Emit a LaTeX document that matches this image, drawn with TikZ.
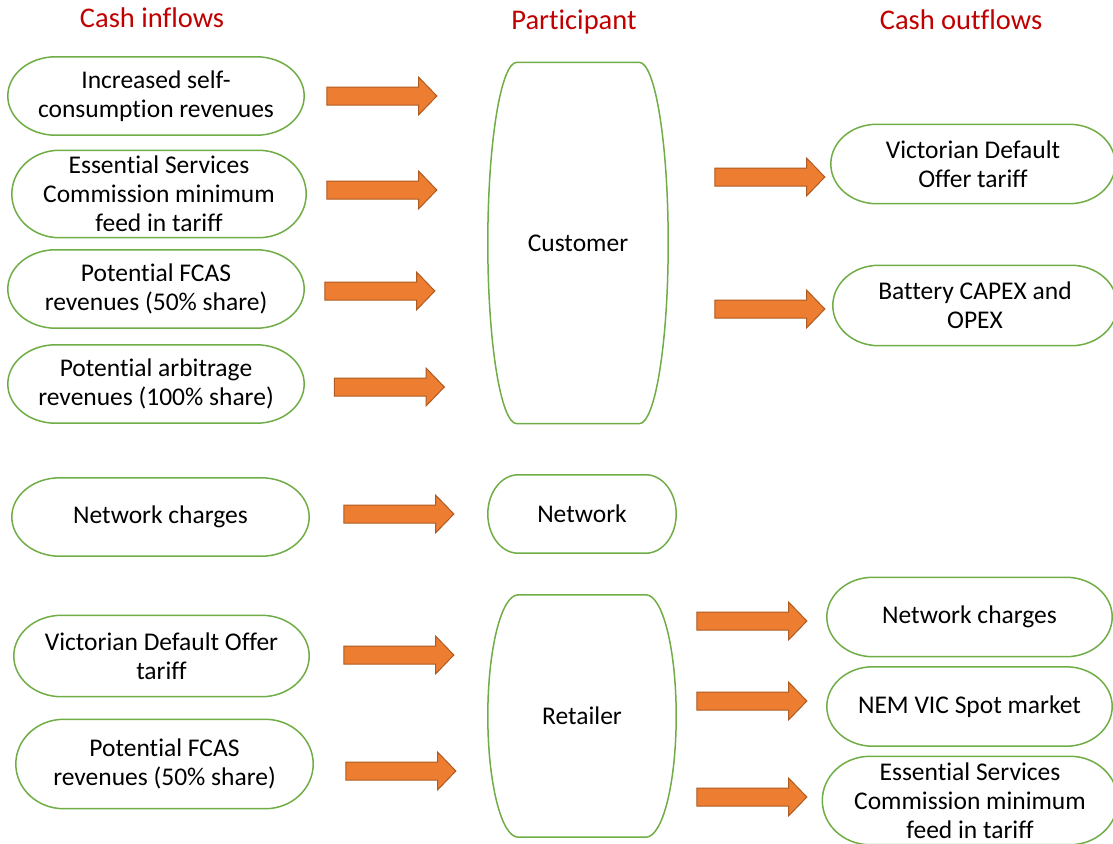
\documentclass[tikz,border=0pt]{standalone}
\usepackage{fontspec}
\setmainfont{Carlito}[Ligatures=NoCommon]
\usetikzlibrary{shapes.arrows,calc}
\definecolor{framegreen}{HTML}{70AD47}
\definecolor{flowfill}{HTML}{ED7D31}
\definecolor{flowline}{HTML}{AE5A21}
\definecolor{headred}{HTML}{C00000}

% terminator outline round a named node
\newcommand{\frameterm}[1]{%
  \draw[termline] let \p1=(#1.south west), \p2=(#1.north east),
      \n1={0.161*(\x2-\x1)}, \n2={0.5*(\y2-\y1)} in
    ($(#1.north west)+(\n1,0pt)$) -- ($(#1.north east)+(-\n1,0pt)$)
    arc[start angle=90, end angle=-90, x radius=\n1, y radius=\n2]
    -- ($(#1.south west)+(\n1,0pt)$)
    arc[start angle=270, end angle=90, x radius=\n1, y radius=\n2]
    -- cycle;}

\begin{document}
\begin{tikzpicture}[x=1pt, y=-1pt,
    every node/.style={font=\fontsize{25.5}{29}\selectfont, align=center},
    box/.style 2 args={minimum width=#1pt, minimum height=#2pt, inner sep=0pt},
    head/.style={text=headred, anchor=base, font=\fontsize{28.5}{32}\selectfont},
    flow/.style={single arrow, draw=flowline, fill=flowfill, line width=1pt,
      minimum height=110pt, minimum width=37pt, single arrow head extend=10pt,
      single arrow tip angle=92, inner xsep=0pt, inner ysep=8.5pt,
      text height=0pt, text depth=0pt},
    termline/.style={draw=framegreen, line width=1.5pt}]
  \useasboundingbox (0,0) rectangle (1113,843);
  \clip (0,0) rectangle (1113,843);

  \node (hin) [head] at (152,28) {Cash inflows};
  \node (hpart) [head] at (574,30) {Participant};
  \node (hout) [head] at (961,30) {Cash outflows};

  % cash inflows
  \node (in1) [box={296}{78}] at (156,96) {Increased self-\\consumption revenues};
  \node (in2) [box={294}{87}] at (159,194) {Essential Services\\Commission minimum\\feed in tariff};
  \node (in3) [box={296}{78}] at (156,289) {Potential FCAS\\revenues (50\% share)};
  \node (in4) [box={296}{78}] at (156,384) {Potential arbitrage\\revenues (100\% share)};
  \node (in5) [box={297}{78}] at (160.5,517) {Network charges};
  \node (in6) [box={295}{81}] at (161.5,656) {Victorian Default Offer\\tariff};
  \node (in7) [box={297}{89}] at (164.5,764) {Potential FCAS\\revenues (50\% share)};

  % participants
  \node (cust) [box={180}{361}] at (578,243) {Customer};
  \node (netw) [box={188}{78}] at (582,514) {Network};
  \node (ret) [box={188}{242}] at (582,716) {Retailer};

  % cash outflows
  \node (out1) [box={284}{79}] at (973,164) {Victorian Default\\Offer tariff};
  \node (out2) [box={284}{80}] at (975,305.5) {Battery CAPEX and\\OPEX};
  \node (out3) [box={285}{79}] at (969.5,617) {Network charges};
  \node (out4) [box={285}{79}] at (969.5,706.5) {NEM VIC Spot market};
  \node (out5) [box={295}{88}] at (970,800.5) {Essential Services\\Commission minimum\\feed in tariff};

  \foreach \b in {in1,in2,in3,in4,in5,in6,in7,cust,netw,ret,out1,out2,out3,out4,out5}
    \frameterm{\b};

  % block arrows
  \node (a1) [flow] at (377.5,96) {};
  \node (a2) [flow] at (377.5,190) {};
  \node (a3) [flow] at (375.5,291) {};
  \node (a4) [flow] at (385,387) {};
  \node (a5) [flow] at (394.5,514) {};
  \node (a6) [flow] at (394.5,655) {};
  \node (a7) [flow] at (396.5,771) {};
  \node (b1) [flow] at (765.5,177) {};
  \node (b2) [flow] at (765.5,309) {};
  \node (b3) [flow] at (747.5,621) {};
  \node (b4) [flow] at (747.5,701) {};
  \node (b5) [flow] at (747.5,797) {};
\end{tikzpicture}
\end{document}
